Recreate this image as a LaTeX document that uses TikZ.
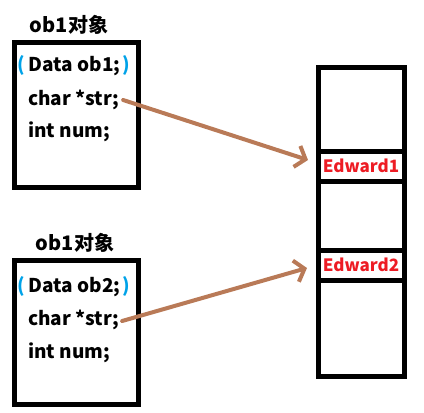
\documentclass[tikz,border=0pt]{standalone}
\usepackage{fontspec}
\setmainfont{Noto Sans CJK SC}
\usetikzlibrary{arrows.meta}
\definecolor{ptrbrown}{RGB}{185,122,87}
\definecolor{parblue}{RGB}{0,162,232}
\definecolor{strred}{RGB}{237,28,36}
\begin{document}
\begin{tikzpicture}[x=1pt,y=-1pt,
    box/.style={draw,line width=5pt},
    code/.style={anchor=west,inner sep=0pt,font=\fontsize{19}{19}\selectfont\bfseries},
    title/.style={inner sep=0pt,font=\fontsize{20}{20}\selectfont\bfseries},
    cell/.style={draw,line width=5pt,minimum width=86pt,inner sep=0pt,
      font=\fontsize{17}{17}\selectfont\bfseries,text=strred},
    ptr/.style={draw=ptrbrown,line width=4pt,line cap=round,line join=round,
      -{Straight Barb[length=9pt,width=22pt,line width=4pt]}}]
    \useasboundingbox (0,0) rectangle (424,413);
    % first object
    \node[title] (t1) at (69,25) {ob1对象};
    \draw[box] (14,42) rectangle (138,187);
    \node[code] (d1) at (17,66) {\textcolor{parblue}{(}\kern4pt Data ob1;\kern2pt\textcolor{parblue}{)}};
    \node[code] (s1) at (28,100) {char *str;};
    \node[code] (n1) at (28,132) {int num;};
    % second object
    \node[title] (t2) at (75,243) {ob1对象};
    \draw[box] (14,260) rectangle (138,404);
    \node[code] (d2) at (17,287) {\textcolor{parblue}{(}\kern4pt Data ob2;\kern2pt\textcolor{parblue}{)}};
    \node[code] (s2) at (28,320) {char *str;};
    \node[code] (n2) at (28,353) {int num;};
    % memory column
    \node[cell,minimum height=84pt] (m0) at (361,109) {};
    \node[cell,minimum height=30pt] (e1) at (361,166) {Edward1};
    \node[cell,minimum height=69pt] (m1) at (361,215.5) {};
    \node[cell,minimum height=30pt] (e2) at (361,265) {Edward2};
    \node[cell,minimum height=96pt] (m2) at (361,328) {};
    \coordinate (p1) at (308,160);
    \coordinate (p2) at (307,268);
    \draw[ptr] (s1.east) ++(4,0) -- (p1);
    \draw[ptr] (s2.east) ++(3,1) -- (p2);
\end{tikzpicture}
\end{document}
